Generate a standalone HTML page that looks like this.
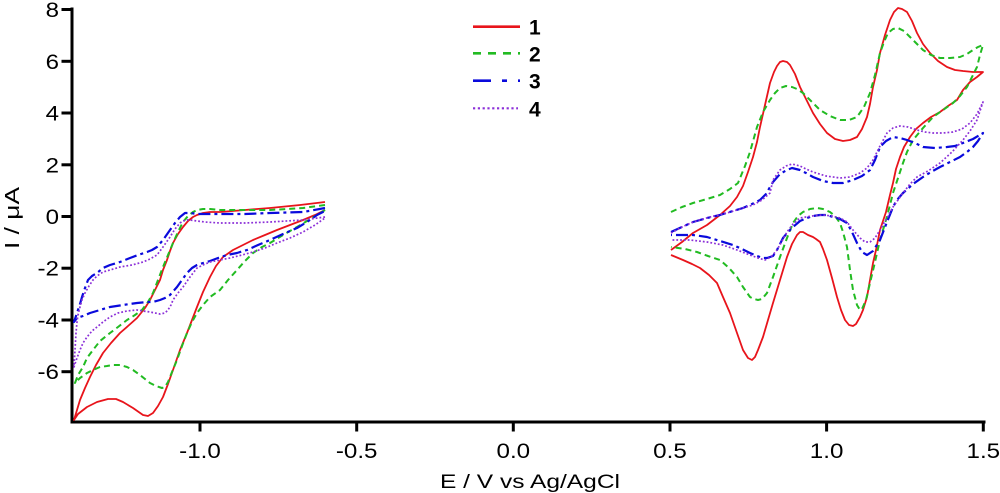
<!DOCTYPE html>
<html>
<head>
<meta charset="utf-8">
<style>
html,body{margin:0;padding:0;background:#fff;}
svg{display:block;}
text{font-family:"Liberation Sans",Arial,sans-serif;fill:#000;}
</style>
</head>
<body>
<svg width="1000" height="493" viewBox="0 0 1000 493" xmlns="http://www.w3.org/2000/svg">
<rect width="1000" height="493" fill="#fff"/>

<!-- Axes -->
<g stroke="#000" stroke-width="3" fill="none" stroke-linecap="square">
  <line x1="72" y1="9" x2="72" y2="422"/>
  <line x1="72" y1="422" x2="984" y2="422"/>
  <!-- y ticks -->
  <line x1="63" y1="9.5" x2="72" y2="9.5"/>
  <line x1="63" y1="61.3" x2="72" y2="61.3"/>
  <line x1="63" y1="113" x2="72" y2="113"/>
  <line x1="63" y1="164.8" x2="72" y2="164.8"/>
  <line x1="63" y1="216.5" x2="72" y2="216.5"/>
  <line x1="63" y1="268.2" x2="72" y2="268.2"/>
  <line x1="63" y1="320" x2="72" y2="320"/>
  <line x1="63" y1="371.7" x2="72" y2="371.7"/>
  <!-- x ticks -->
  <line x1="200" y1="422" x2="200" y2="430"/>
  <line x1="356.7" y1="422" x2="356.7" y2="430"/>
  <line x1="513.3" y1="422" x2="513.3" y2="430"/>
  <line x1="670" y1="422" x2="670" y2="430"/>
  <line x1="826.6" y1="422" x2="826.6" y2="430"/>
  <line x1="983.3" y1="422" x2="983.3" y2="430"/>
</g>

<!-- y tick labels -->
<g font-size="21" text-anchor="end">
  <text x="59" y="17" textLength="13.4" lengthAdjust="spacingAndGlyphs">8</text>
  <text x="59" y="68.8" textLength="13.4" lengthAdjust="spacingAndGlyphs">6</text>
  <text x="59" y="120.5" textLength="13.4" lengthAdjust="spacingAndGlyphs">4</text>
  <text x="59" y="172.3" textLength="13.4" lengthAdjust="spacingAndGlyphs">2</text>
  <text x="59" y="224" textLength="13.4" lengthAdjust="spacingAndGlyphs">0</text>
  <text x="59" y="275.7" textLength="21.5" lengthAdjust="spacingAndGlyphs">-2</text>
  <text x="59" y="327.5" textLength="21.5" lengthAdjust="spacingAndGlyphs">-4</text>
  <text x="59" y="379.2" textLength="21.5" lengthAdjust="spacingAndGlyphs">-6</text>
</g>

<!-- x tick labels -->
<g font-size="21" text-anchor="middle">
  <text x="200" y="458" textLength="41.6" lengthAdjust="spacingAndGlyphs">-1.0</text>
  <text x="356.7" y="458" textLength="41.6" lengthAdjust="spacingAndGlyphs">-0.5</text>
  <text x="513.3" y="458" textLength="33.6" lengthAdjust="spacingAndGlyphs">0.0</text>
  <text x="670" y="458" textLength="33.6" lengthAdjust="spacingAndGlyphs">0.5</text>
  <text x="826.6" y="458" textLength="33.6" lengthAdjust="spacingAndGlyphs">1.0</text>
  <text x="983.3" y="458" textLength="33.6" lengthAdjust="spacingAndGlyphs">1.5</text>
</g>

<!-- axis titles -->
<text x="530" y="488" font-size="19" text-anchor="middle" textLength="180" lengthAdjust="spacingAndGlyphs">E / V vs Ag/AgCl</text>
<text x="0" y="0" font-size="20" text-anchor="middle" textLength="62" lengthAdjust="spacingAndGlyphs" transform="translate(19,218) rotate(-90)">I / μA</text>

<!-- Legend -->
<g fill="none" stroke-width="2.6">
  <line x1="473" y1="26.7" x2="520" y2="26.7" stroke="#e8141b"/>
  <line x1="473" y1="53.3" x2="520" y2="53.3" stroke="#22bb22" stroke-dasharray="8,7"/>
  <line x1="473" y1="80.7" x2="520" y2="80.7" stroke="#0a0adc" stroke-dasharray="18,11,5,11"/>
  <line x1="473" y1="108.3" x2="518" y2="108.3" stroke="#8b2fd8" stroke-width="2.2" stroke-dasharray="2.2,2.6"/>
</g>
<g font-size="21" font-weight="bold">
  <text x="529" y="34.7">1</text>
  <text x="529" y="61.3">2</text>
  <text x="529" y="88.7">3</text>
  <text x="529" y="116.3">4</text>
</g>

<!-- Curves: right side -->
<g fill="none" stroke-linejoin="round">
  <polyline stroke="#e8141b" stroke-width="1.8" points="671,250 682,242 693,233 707,225 720,215 730,206 737,197 743,186 748,172 753,157 757,142 760,127 765,105 770,83 774,72 777,66 780,62 783,61 787,62 790,65 795,74 800,87 807,101 813,113 820,124 827,133 835,139 843,141 850,140 857,137 862,129 867,117 870,104 873,87 877,70 880,53 885,35 890,20 894,12 898,8 902,9 907,12 912,21 917,33 923,44 930,53 938,61 947,67 955,70 963,71 973,72 983,72 977,77 970,82 963,90 957,100 948,106 940,112 931,117 923,123 916,129 910,137 904,147 900,157 896,169 893,183 890,195 886,212 880,230 876,250 873,263 870,280 867,297 863,310 860,317 856,324 853,326 849,325 845,320 841,310 837,297 832,278 827,260 823,249 820,242 816,239 813,237 808,235 803,232 800,232 797,235 792,244 787,257 780,280 773,303 768,320 763,337 758,350 755,357 752,360 748,358 743,350 737,333 730,313 723,297 717,283 709,275 700,268 692,264 683,260 671,255"/>

  <polyline stroke="#22bb22" stroke-width="2" stroke-dasharray="6,4" points="671,212 682,207 693,203 707,199 720,195 730,189 738,183 745,166 750,152 757,127 763,112 770,100 775,93 780,88 786,86 792,87 797,89 803,93 811,101 820,110 830,116 840,120 849,120 857,117 864,107 870,93 875,75 880,53 884,42 888,33 893,29 898,28 904,31 910,37 917,44 923,50 931,55 940,58 950,58 960,57 967,54 973,50 978,47 983,45 980,55 977,67 972,77 967,87 960,96 953,103 943,110 933,117 923,128 913,140 907,152 903,163 898,178 893,193 890,205 886,220 880,240 875,262 870,283 866,300 862,309 860,310 857,305 853,290 850,270 847,247 843,232 840,223 835,216 830,212 823,209 817,208 810,209 803,212 798,216 793,223 787,238 780,257 773,277 767,293 762,299 758,300 754,299 750,297 743,287 737,277 729,268 720,260 708,256 697,252 685,249 671,247"/>

  <polyline stroke="#0a0adc" stroke-width="2.2" stroke-dasharray="12,4,3,4" points="671,232 682,227 693,222 707,218 720,215 733,211 743,208 752,204 760,200 766,194 770,187 773,182 780,174 787,170 792,168 800,170 806,173 813,177 823,181 833,183 843,183 853,180 862,176 870,170 875,160 880,147 886,141 893,137 900,138 907,140 915,143 923,147 935,148 947,147 955,146 963,143 973,139 983,133 978,141 973,147 967,152 960,157 950,162 940,167 931,172 923,177 913,184 903,193 897,200 893,207 887,222 880,240 873,251 867,255 862,252 857,243 852,232 847,223 840,219 833,217 827,215 820,215 813,216 807,218 800,221 793,227 788,232 783,238 777,250 773,256 767,258 763,258 757,256 750,253 742,249 733,245 720,241 707,237 693,235 680,235 671,235"/>

  <polyline stroke="#8b2fd8" stroke-width="1.7" stroke-dasharray="1.8,2" points="671,233 682,227 693,222 710,217 727,213 740,209 753,205 762,200 770,193 773,180 780,170 786,166 792,164 800,166 806,169 813,172 826,176 840,178 850,177 860,173 867,168 873,160 880,146 887,133 893,128 900,126 908,127 917,130 925,132 933,133 943,133 953,132 962,129 970,123 977,114 983,102 980,111 977,120 970,131 963,140 952,152 940,163 928,171 917,177 910,184 903,193 898,200 893,207 887,218 880,230 875,238 870,242 865,242 860,238 853,230 847,222 840,218 832,216 823,215 812,216 800,218 793,224 787,232 782,241 777,250 771,257 765,260 758,258 750,255 737,250 723,245 707,242 690,240 671,240"/>
</g>

<!-- Curves: left side -->
<g fill="none" stroke-linejoin="round">
  <polyline stroke="#e8141b" stroke-width="1.8" points="325,202 300,205 270,208 245,210 220,212 210,212 203,213 197,215 193,217 188,221 183,227 178,234 173,243 170,251 167,260 163,270 160,280 155,290 150,300 145,308 137,318 128,326 120,333 111,343 103,353 96,365 90,377 85,388 80,400 77,410 74,420 78,414 87,407 97,402 108,399 116,399 123,402 133,408 143,415 148,416 153,413 158,406 163,397 168,384 173,370 180,350 187,333 192,320 197,307 203,292 210,277 216,266 223,257 233,250 243,245 253,240 265,235 277,230 290,225 303,220 315,215 325,210"/>

  <polyline stroke="#22bb22" stroke-width="2" stroke-dasharray="6,4" points="325,205 303,208 270,210 245,210 220,210 210,209 203,209 197,210 193,212 188,216 183,222 178,232 173,243 168,255 163,267 158,280 153,293 148,302 142,310 135,315 127,320 118,327 110,333 100,341 93,350 87,358 83,367 78,375 75,383 80,378 87,373 93,370 100,367 107,366 113,365 120,365 127,367 133,370 140,375 145,379 150,383 156,386 162,388 165,387 168,382 172,372 177,360 182,346 187,333 192,322 197,313 203,305 210,297 220,290 228,280 237,270 245,261 253,253 262,247 270,243 283,235 297,227 307,221 317,215 325,210"/>

  <polyline stroke="#0a0adc" stroke-width="2.2" stroke-dasharray="12,4,3,4" points="325,208 303,212 270,213 245,214 220,214 197,214 190,213 185,213 180,217 175,223 170,230 163,240 157,247 152,250 147,252 138,255 130,258 120,262 110,265 103,268 97,273 92,276 88,280 85,288 82,297 80,304 78,310 76,316 74,322 77,318 83,316 90,313 100,310 110,307 123,305 137,303 147,302 153,302 160,300 165,298 170,295 177,287 182,280 187,273 192,268 197,265 203,263 210,261 218,258 227,255 237,253 247,250 258,245 270,240 283,234 297,228 307,222 317,215 325,211"/>

  <polyline stroke="#8b2fd8" stroke-width="1.7" stroke-dasharray="1.8,2" points="325,217 303,220 270,222 245,223 220,223 205,222 197,221 190,220 187,220 183,221 180,223 175,229 170,237 163,247 157,255 150,259 143,262 132,265 120,267 110,270 103,272 97,276 93,280 89,286 85,293 82,300 80,307 78,315 77,322 76,333 75,350 74,367 77,358 80,350 83,343 87,337 92,331 97,327 103,322 110,317 118,313 127,311 137,310 143,311 150,312 155,313 160,314 165,313 168,310 171,305 173,300 178,293 183,287 190,277 197,268 203,265 210,262 220,260 230,258 242,255 253,252 265,248 277,243 290,238 303,232 315,225 325,218"/>
</g>
</svg>
</body>
</html>
